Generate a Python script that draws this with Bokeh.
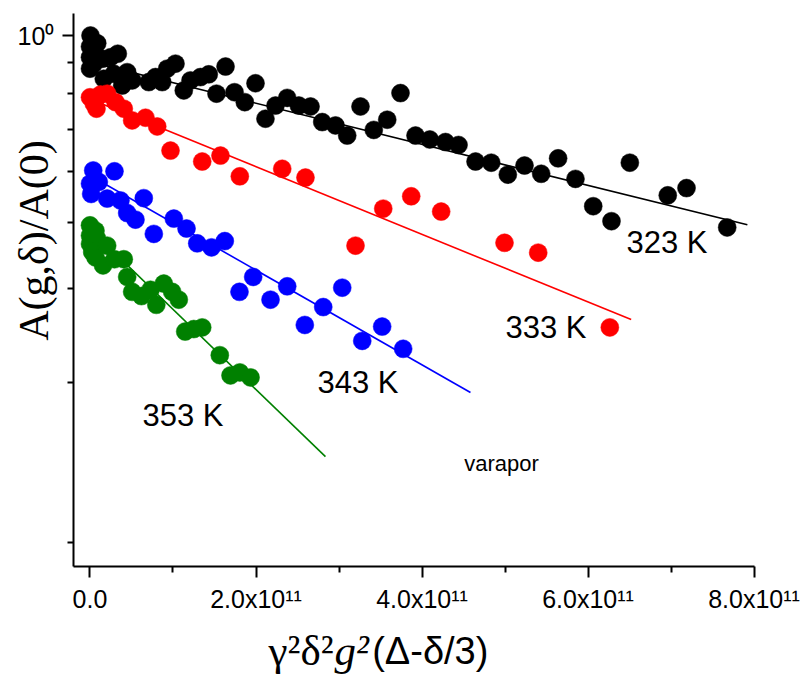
import numpy as np
from bokeh.plotting import figure
from bokeh.models import Range1d, FixedTicker, Label, LinearAxis, LogAxis
from bokeh.embed import file_html
from bokeh.resources import INLINE

# x in units of 1e11 (gamma^2 delta^2 g^2 (Delta - delta/3)), y = A(g,delta)/A(0)
x_323 = [0.006, 0.0, 0.087, 0.0, 0.046, 0.0, 0.147, 0.247, 0.335, 0.166, 0.287, 0.388,
         0.448, 0.508, 0.708, 0.789, 0.870, 0.930, 1.030, 1.130, 1.211, 1.331, 1.431,
         1.633, 1.524, 1.741, 1.865, 1.994, 2.114, 2.235, 2.376, 2.516, 2.657, 2.798,
         2.958, 3.099, 3.259, 3.419, 3.581, 3.741, 3.922, 4.094, 4.283, 4.440, 4.645,
         4.834, 5.034, 5.235, 5.436, 5.640, 5.849, 6.063, 6.283, 6.504, 6.961, 7.187,
         7.677]
y_323 = [1.000, 0.953, 0.967, 0.910, 0.885, 0.866, 0.904, 0.910, 0.924, 0.829, 0.847,
         0.805, 0.853, 0.823, 0.817, 0.835, 0.817, 0.866, 0.885, 0.788, 0.823, 0.835,
         0.845, 0.874, 0.777, 0.782, 0.749, 0.813, 0.697, 0.738, 0.763, 0.738, 0.735,
         0.687, 0.677, 0.648, 0.735, 0.664, 0.694, 0.779, 0.648, 0.637, 0.630, 0.622,
         0.579, 0.576, 0.547, 0.569, 0.549, 0.587, 0.537, 0.477, 0.447, 0.576, 0.500,
         0.516, 0.435]

x_333 = [0.0, 0.046, 0.078, 0.127, 0.207, 0.307, 0.407, 0.508, 0.669, 0.810, 0.970,
         1.352, 1.572, 1.805, 2.316, 2.596, 3.199, 3.533, 3.870, 4.231, 4.994, 5.400,
         6.263]
y_333 = [0.765, 0.744, 0.728, 0.774, 0.777, 0.749, 0.728, 0.692, 0.700, 0.674, 0.607,
         0.579, 0.594, 0.543, 0.561, 0.540, 0.402, 0.472, 0.498, 0.466, 0.407, 0.390,
         0.282]

x_343 = [0.039, 0.295, 0.0, 0.106, 0.014, 0.207, 0.367, 0.648, 0.448, 0.548, 0.769,
         1.010, 1.163, 1.292, 1.464, 1.624, 1.966, 1.801, 2.175, 2.376, 2.588, 2.810,
         3.039, 3.280, 3.520, 3.773]
y_343 = [0.557, 0.555, 0.526, 0.530, 0.503, 0.493, 0.489, 0.494, 0.463, 0.450, 0.423,
         0.452, 0.433, 0.406, 0.399, 0.410, 0.351, 0.329, 0.318, 0.337, 0.285, 0.308,
         0.335, 0.266, 0.283, 0.257]

x_353 = [0.0, 0.066, 0.0, 0.046, 0.0, 0.087, 0.027, 0.066, 0.207, 0.157, 0.295, 0.407,
         0.448, 0.508, 0.620, 0.729, 0.799, 0.889, 0.990, 1.070, 1.147, 1.251, 1.352,
         1.564, 1.693, 1.805, 1.934]
y_353 = [0.439, 0.429, 0.420, 0.423, 0.405, 0.414, 0.391, 0.382, 0.402, 0.369, 0.379,
         0.379, 0.351, 0.329, 0.323, 0.332, 0.311, 0.341, 0.329, 0.318, 0.277, 0.280,
         0.282, 0.250, 0.229, 0.232, 0.227]

# single-exponential fits: end points of each fitted line
fit_323_x, fit_323_y = [0.0, 7.92], [0.891, 0.440]
fit_333_x, fit_333_y = [0.0, 6.52], [0.759, 0.2917]
fit_343_x, fit_343_y = [0.0, 4.584], [0.545, 0.2127]
fit_353_x, fit_353_y = [0.0, 2.837], [0.432, 0.161]

x_ticks = [0.0, 2.0, 4.0, 6.0, 8.0]
x_minor = [1.0, 3.0, 5.0, 7.0]
x_tick_labels = ["0.0", "2.0x10\u00b9\u00b9", "4.0x10\u00b9\u00b9", "6.0x10\u00b9\u00b9", "8.0x10\u00b9\u00b9"]
y_minor = [k / 9 for k in range(1, 9)]

SCALE = 1e11
X_MIN, X_MAX = -0.2, 8.0       # axis extent (1e11 units)
Y_MIN, Y_MAX = 0.1, 1.1

series = [
    (x_323, y_323, fit_323_x, fit_323_y, "black"),
    (x_333, y_333, fit_333_x, fit_333_y, "#ff0000"),
    (x_343, y_343, fit_343_x, fit_343_y, "#0000ff"),
    (x_353, y_353, fit_353_x, fit_353_y, "#008000"),
]

# the frame spans the whole canvas; the axes sit at fixed data locations inside it,
# leaving room for the titles to the left of and below the axes
p = figure(width=802, height=675, y_axis_type="log",
           x_range=Range1d(-1.0783 * SCALE, 8.5843 * SCALE), y_range=Range1d(0.06233, 1.1639),
           output_backend="svg", toolbar_location=None,
           x_axis_location=None, y_axis_location=None,
           min_border_left=0, min_border_right=0, min_border_top=0, min_border_bottom=0)

p.outline_line_color = None
p.xgrid.visible = False
p.ygrid.visible = False
p.background_fill_color = "white"
p.border_fill_color = "white"

for xs, ys, fx, fy, col in series:
    p.line(np.array(fx) * SCALE, fy, line_color=col, line_width=1.6)
for xs, ys, fx, fy, col in series:
    p.scatter(np.array(xs) * SCALE, ys, size=18, fill_color=col, line_color=col, line_width=0.5)

xaxis = LinearAxis(fixed_location=Y_MIN, bounds=(X_MIN * SCALE, X_MAX * SCALE),
                   ticker=FixedTicker(ticks=[t * SCALE for t in x_ticks],
                                      minor_ticks=[t * SCALE for t in x_minor]))
xaxis.major_label_overrides = {t * SCALE: lab for t, lab in zip(x_ticks, x_tick_labels)}
yaxis = LogAxis(fixed_location=X_MIN * SCALE, bounds=(Y_MIN, Y_MAX),
                ticker=FixedTicker(ticks=[1.0], minor_ticks=y_minor))
yaxis.major_label_overrides = {1.0: "10\u2070"}

for ax in (xaxis, yaxis):
    ax.axis_line_width = 2
    ax.axis_line_color = "black"
    ax.major_tick_line_width = 2
    ax.minor_tick_line_width = 2
    ax.major_tick_out = 11
    ax.major_tick_in = 0
    ax.minor_tick_out = 6
    ax.minor_tick_in = 0
    ax.major_label_text_font = "Liberation Sans"
    ax.major_label_text_font_size = "25px"
    ax.major_label_text_color = "black"
    ax.major_label_standoff = 8

p.add_layout(xaxis, "below")
p.add_layout(yaxis, "left")

# axis titles
p.add_layout(Label(x=-0.669 * SCALE, y=0.411, text="A(g,\u03b4)/A(0)", angle=np.pi / 2,
                   text_font="Liberation Serif", text_font_size="42px",
                   text_align="center", text_baseline="middle", text_color="black"))
X_TITLE_Y = 0.06946
p.add_layout(Label(x=2.151 * SCALE, y=X_TITLE_Y, text="\u03b3\u00b2\u03b4\u00b2",
                   text_font="Liberation Serif", text_font_size="43px",
                   text_align="left", text_baseline="middle", text_color="black"))
p.add_layout(Label(x=2.946 * SCALE, y=X_TITLE_Y, text="g\u00b2",
                   text_font="Liberation Serif", text_font_style="italic", text_font_size="43px",
                   text_align="left", text_baseline="middle", text_color="black"))
p.add_layout(Label(x=3.40 * SCALE, y=X_TITLE_Y, text="(\u0394-\u03b4/3)",
                   text_font="Liberation Sans", text_font_size="38px",
                   text_align="left", text_baseline="middle", text_color="black"))

# temperature annotations
for tx, ty, txt in [(6.464, 0.4075, "323 K"), (5.006, 0.2818, "333 K"),
                    (2.741, 0.2221, "343 K"), (0.6325, 0.1924, "353 K")]:
    p.add_layout(Label(x=tx * SCALE, y=ty, text=txt, text_font="Liberation Sans",
                       text_font_size="31px", text_align="left", text_baseline="middle",
                       text_color="black"))
p.add_layout(Label(x=4.958 * SCALE, y=0.1563, text="varapor", text_font="Liberation Sans",
                   text_font_size="22px", text_align="center", text_baseline="middle",
                   text_color="black"))

open("out.html", "w").write(file_html(p, INLINE))
